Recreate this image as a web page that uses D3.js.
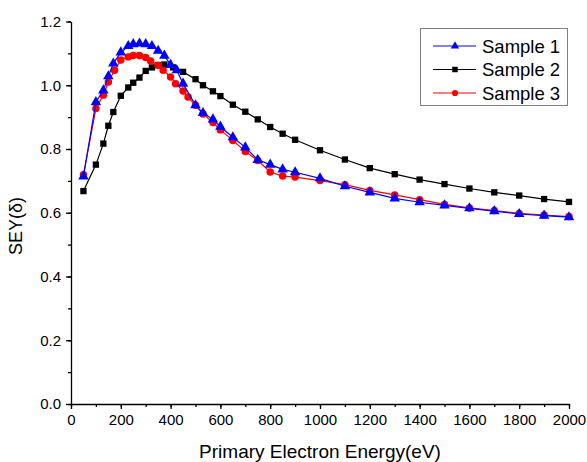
<!DOCTYPE html>
<html>
<head>
<meta charset="utf-8">
<script src="https://cdn.jsdelivr.net/npm/d3@7"></script>
<style>
  body { margin: 0; background: #fff; }
  svg text { font-family: Arial, "Liberation Sans", sans-serif; fill: #000; }
</style>
</head>
<body>
<svg id="chart" width="587" height="462"></svg>
<script>
// --- data ---
const sample1X = [50,100,130,150,170,200,230,250,275,300,325,350,375,400,425,450,500,530,570,600,650,700,750,800,850,900,1000,1100,1200,1300,1400,1500,1600,1700,1800,1900,2000];
const sample1Y = [0.714,0.947,0.984,1.028,1.068,1.103,1.123,1.129,1.131,1.129,1.123,1.108,1.093,1.064,1.047,1.005,0.937,0.913,0.893,0.870,0.837,0.805,0.766,0.751,0.736,0.727,0.708,0.683,0.664,0.645,0.633,0.623,0.614,0.605,0.596,0.591,0.586];

const sample2X = [50,100,130,150,170,200,230,250,275,300,325,350,375,410,450,500,530,570,600,650,700,750,800,850,900,1000,1100,1200,1300,1400,1500,1600,1700,1800,1900,2000];
const sample2Y = [0.668,0.751,0.817,0.873,0.916,0.967,0.993,1.008,1.024,1.045,1.056,1.063,1.065,1.056,1.042,1.019,1.000,0.981,0.966,0.939,0.917,0.893,0.869,0.848,0.829,0.796,0.767,0.740,0.721,0.704,0.690,0.676,0.664,0.654,0.643,0.634];

const sample3X = [50,100,130,150,175,200,230,250,275,300,320,350,370,400,420,450,470,500,530,570,600,650,700,750,800,850,900,1000,1100,1200,1300,1400,1500,1600,1700,1800,1900,2000];
const sample3Y = [0.719,0.927,0.969,1.010,1.047,1.079,1.089,1.093,1.093,1.087,1.076,1.063,1.047,1.026,1.005,0.982,0.963,0.937,0.910,0.883,0.860,0.827,0.792,0.764,0.728,0.715,0.712,0.701,0.688,0.670,0.656,0.641,0.626,0.615,0.607,0.598,0.593,0.588];

const seriesNames = ["Sample 1", "Sample 2", "Sample 3"];
const xTicks = [0,200,400,600,800,1000,1200,1400,1600,1800,2000];
const yTicks = [0.0,0.2,0.4,0.6,0.8,1.0,1.2];

const svg = d3.select("#chart");
const margin = { left: 71, right: 18, top: 21.5, bottom: 58 };
const width = 587, height = 462;

const x = d3.scaleLinear().domain([0, 2000]).range([margin.left, width - margin.right]);
const y = d3.scaleLinear().domain([0, 1.2]).range([height - margin.bottom, margin.top]);

const series = [
  { name: seriesNames[1], xs: sample2X, ys: sample2Y, color: "#000000", marker: d3.symbolSquare, legendRow: 1 },
  { name: seriesNames[2], xs: sample3X, ys: sample3Y, color: "#ff0000", marker: d3.symbolCircle, legendRow: 2 },
  { name: seriesNames[0], xs: sample1X, ys: sample1Y, color: "#0000ff", marker: d3.symbolTriangle, legendRow: 0 }
];

// axes: minor ticks first, then majors with labels
const xMinor = d3.range(0, 2001, 100);
const yMinor = d3.range(0, 1.2001, 0.1);

svg.append("g")
  .attr("transform", `translate(0,${y(0)})`)
  .call(d3.axisBottom(x).tickValues(xMinor).tickSize(3).tickFormat(""))
  .call(g => g.select(".domain").remove());
svg.append("g")
  .attr("transform", `translate(${x(0)},0)`)
  .call(d3.axisLeft(y).tickValues(yMinor).tickSize(3).tickFormat(""))
  .call(g => g.select(".domain").remove());

const xAxis = svg.append("g")
  .attr("transform", `translate(0,${y(0)})`)
  .call(d3.axisBottom(x).tickValues(xTicks).tickSize(5).tickSizeOuter(0).tickPadding(5).tickFormat(d3.format("d")));
xAxis.selectAll("text").attr("font-size", 15);

const yAxis = svg.append("g")
  .attr("transform", `translate(${x(0)},0)`)
  .call(d3.axisLeft(y).tickValues(yTicks).tickSize(5).tickSizeOuter(0).tickPadding(5).tickFormat(d3.format(".1f")));
yAxis.selectAll("text").attr("font-size", 15);

svg.selectAll(".domain, .tick line").attr("stroke", "#000").attr("stroke-width", 1.3);
svg.selectAll(".tick text").attr("fill", "#000");

svg.append("text")
  .attr("x", (x(0) + x(2000)) / 2)
  .attr("y", 458)
  .attr("text-anchor", "middle")
  .attr("font-size", 19)
  .text("Primary Electron Energy(eV)");

svg.append("text")
  .attr("transform", `translate(22,226) rotate(-90)`)
  .attr("text-anchor", "middle")
  .attr("font-size", 18)
  .text("SEY(δ)");

// series
const line = d3.line().x(d => x(d[0])).y(d => y(d[1]));

series.forEach(s => {
  const pts = s.xs.map((v, i) => [v, s.ys[i]]);
  svg.append("path")
    .datum(pts)
    .attr("d", line)
    .attr("fill", "none")
    .attr("stroke", s.color)
    .attr("stroke-width", 1.2);
  svg.append("g").selectAll("path")
    .data(pts).join("path")
    .attr("d", d3.symbol().type(s.marker).size(s.marker === d3.symbolTriangle ? 48 : s.marker === d3.symbolCircle ? 44 : 40))
    .attr("transform", d => `translate(${x(d[0])},${y(d[1])})`)
    .attr("fill", s.color);
});

// legend
const legend = svg.append("g");
legend.append("rect")
  .attr("x", 420.5).attr("y", 28.5)
  .attr("width", 147).attr("height", 77)
  .attr("fill", "#fff")
  .attr("stroke", "#808080")
  .attr("stroke-width", 1);

series.forEach(s => {
  const ly = 46 + s.legendRow * 23.5;
  legend.append("line")
    .attr("x1", 433).attr("x2", 476)
    .attr("y1", ly).attr("y2", ly)
    .attr("stroke", s.color).attr("stroke-width", 1.2);
  legend.append("path")
    .attr("d", d3.symbol().type(s.marker).size(30))
    .attr("transform", `translate(455,${ly})`)
    .attr("fill", s.color);
  legend.append("text")
    .attr("x", 482).attr("y", ly + 6.5)
    .attr("font-size", 18.5)
    .text(s.name);
});
</script>
</body>
</html>
